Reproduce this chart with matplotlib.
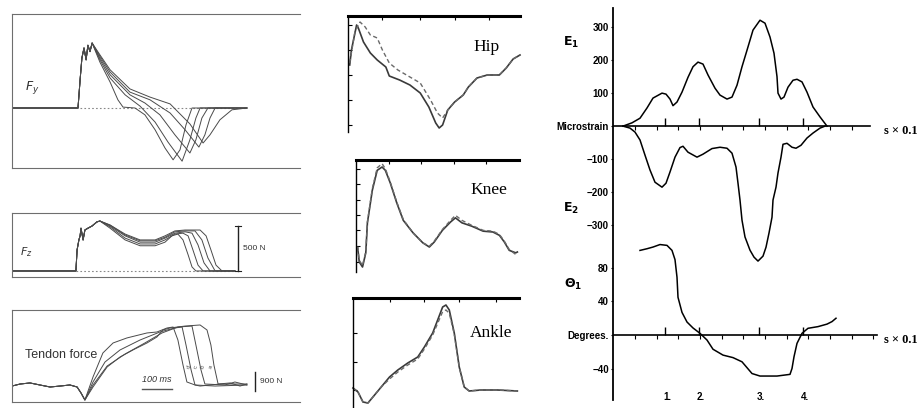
import numpy as np
import matplotlib
matplotlib.use('Agg')
import matplotlib.pyplot as plt

plt.rcParams['font.family'] = ['Liberation Sans', 'DejaVu Sans']
plt.rcParams['mathtext.fontset'] = 'dejavusans'

W, H = 922, 408

# ---------------- left column: forces (time in ms, force in N) ----------------
fy_t0 = [0, 220, 227, 233, 240, 247, 253, 260, 267]
fy_f0 = [0, 0, 310, 550, 660, 530, 690, 620, 715]
fy_t = [
    [293, 327, 353, 370, 410, 443, 477, 510, 537, 560, 580, 600, 783],
    [293, 327, 377, 427, 477, 520, 567, 593, 613, 627, 783],
    [293, 327, 393, 443, 493, 543, 593, 613, 633, 653, 783],
    [293, 327, 393, 460, 527, 577, 623, 643, 660, 677, 783],
    [293, 327, 393, 460, 527, 593, 637, 660, 693, 733, 783],
]
fy_f = [
    [505, 285, 90, 10, 0, -75, -240, -440, -570, -460, -185, 0, 0],
    [530, 330, 145, 20, -155, -375, -585, -350, -110, 0, 0],
    [550, 365, 145, 55, -75, -295, -495, -350, -110, 0, 0],
    [570, 395, 175, 90, -55, -240, -430, -295, -110, 0, 0],
    [585, 420, 210, 120, 45, -175, -385, -295, -130, -20, 0],
]

fz_t0 = [0, 213, 217, 223, 227, 230, 237, 243, 253, 267, 283, 293]
fz_f0 = [0, 0, 235, 345, 390, 475, 345, 455, 475, 500, 545, 555]
fz_t = [
    [327, 377, 427, 477, 510, 533, 553, 570, 587, 600, 613, 743],
    [327, 377, 427, 477, 510, 543, 570, 587, 603, 620, 637, 743],
    [327, 377, 427, 477, 510, 543, 577, 600, 620, 640, 660, 743],
    [327, 377, 427, 477, 510, 543, 577, 610, 633, 653, 677, 743],
    [327, 377, 427, 477, 510, 543, 577, 627, 647, 663, 680, 700, 743],
]
fz_f = [
    [475, 345, 280, 280, 320, 390, 410, 345, 180, 45, 0, 0],
    [490, 365, 300, 300, 345, 410, 420, 390, 235, 65, 0, 0],
    [500, 390, 320, 320, 365, 420, 435, 420, 290, 90, 0, 0],
    [510, 400, 335, 335, 375, 435, 445, 445, 345, 145, 0, 0],
    [510, 410, 345, 345, 390, 445, 455, 455, 390, 235, 65, 0, 0],
]

tf_t0 = [0, 27, 60, 93, 127, 160, 193, 217, 230, 243]
tf_f0 = [750, 845, 895, 800, 705, 750, 800, 705, 425, 95]
tf_t = [
    [270, 303, 337, 383, 450, 483, 517, 537, 553, 570, 583, 610, 627, 693, 783],
    [270, 310, 360, 427, 493, 543, 567, 580, 597, 610, 677, 783],
    [270, 317, 377, 443, 500, 553, 600, 613, 630, 643, 710, 743, 783],
    [270, 317, 360, 403, 450, 483, 503, 527, 577, 627, 650, 663, 673, 687, 727, 760, 783],
]
tf_f = [
    [1175, 2305, 2775, 3010, 3245, 3290, 3480, 3525, 2915, 1740, 940, 800, 750, 845, 845],
    [940, 1880, 2445, 2915, 3290, 3480, 3525, 2680, 1505, 800, 750, 800],
    [800, 1690, 2255, 2775, 3245, 3525, 3570, 2680, 1505, 845, 800, 940, 800],
    [705, 1645, 2115, 2445, 2775, 3055, 3385, 3480, 3570, 3620, 3385, 2680, 1740, 845, 895, 750, 845],
]
tf_names = ['d', 'c', 'b', 'a']

# ---------------- middle column: joint angles (% cycle, deg) ----------------
hip_pct = [1, 2, 5, 6, 9, 13, 17, 22, 24, 30, 36, 42, 47, 51, 53, 55, 58, 62, 67, 70, 75, 81, 88, 92, 96, 100]
hip_meas = [12.5, 20, 32.5, 31, 24, 18.5, 15, 11.5, 7, 5, 2.5, -1.5, -8.5, -16.5, -19, -17.5, -10, -6, -2.5,
            1.5, 6, 7.5, 7.5, 11, 15.5, 17.5]
hip_pct_d = [1, 4, 7, 10, 13, 17, 20, 24, 29, 36, 42, 48, 52, 55, 58, 62, 67, 70, 75, 81, 88, 92, 96, 100]
hip_sim = [13.5, 29, 34, 31.5, 27.5, 26, 20, 13.5, 10, 6.5, 3.5, -5, -11.5, -14, -10, -6, -2.5, 1.5, 6, 7.5,
           7.5, 11, 15.5, 17.5]

knee_pct = [1, 2, 4, 6, 7, 10, 13, 16, 18, 21, 25, 29, 35, 41, 45, 48, 53, 58, 61, 65, 71, 78, 84, 88, 91, 94, 98, 99]
knee_meas = [15, 6, 3, 11.5, 29.5, 49, 61, 63, 61, 53.5, 41.5, 31, 23.5, 17.5, 15, 18, 25, 30, 32.5, 29.5,
             27.5, 24.5, 24, 22, 18, 13, 11.5, 12]
knee_sim = [15, 7, 4, 12, 30, 50, 62.5, 65, 62, 54, 42, 31.5, 23.5, 17.5, 15.5, 18.5, 25.5, 31, 34, 31,
            28, 25, 24.5, 22.5, 18.5, 13.5, 10.5, 11]

ankle_pct = [0, 3, 6, 9, 12, 17, 22, 27, 33, 39, 43, 48, 51, 54, 56, 58, 61, 64, 67, 70, 77, 87, 99]
ankle_meas = [0.6, -0.6, -3.6, -3.9, -2.1, 0.9, 3.9, 6, 8.1, 9.9, 12.9, 17.1, 21, 24.9, 25.5, 24, 17.1, 6.9,
              0.9, -0.3, 0, 0, -0.3]
ankle_sim = [0.6, -0.6, -3.6, -3.9, -2.1, 0.9, 3.3, 5.4, 7.5, 9.3, 12.3, 16.5, 20, 23.5, 24, 23, 16.8, 6.9,
             0.9, -0.3, 0, 0, -0.3]

# ---------------- right column: strain and angle vs time ----------------
e1_t = [1.0, 1.9, 2.7, 3.4, 4.0, 4.9, 5.3, 5.7, 6.0, 6.4, 6.9, 7.5, 8.0, 8.5, 9.0, 9.5, 10.2, 10.7, 11.4,
        11.9, 12.4, 12.9, 13.4, 14.0, 14.7, 15.2, 15.7, 16.1, 16.4, 16.5, 16.8, 17.1, 17.5, 18.0, 18.4,
        18.9, 19.4, 20.0, 20.7, 21.4]
e1 = [0, 10, 24, 55, 85, 100, 97, 82, 62, 73, 103, 148, 180, 194, 188, 155, 115, 94, 82, 88, 124, 180,
      230, 291, 321, 312, 270, 221, 150, 100, 82, 88, 118, 139, 142, 134, 103, 58, 28, 0]
e2_t = [1.0, 1.7, 2.2, 2.7, 3.2, 3.7, 4.2, 4.9, 5.3, 5.7, 6.2, 6.7, 7.0, 7.5, 8.4, 9.0, 9.9, 10.7, 11.4,
        11.9, 12.3, 12.5, 12.7, 12.9, 13.2, 13.7, 14.1, 14.5, 15.0, 15.3, 15.6, 15.9, 16.0, 16.3, 16.5,
        16.8, 17.0, 17.4, 17.9, 18.3, 18.8, 19.4, 20.0, 20.7, 21.2]
e2 = [0, -6, -18, -42, -88, -133, -170, -185, -173, -139, -94, -65, -61, -79, -94, -85, -68, -64, -67,
      -82, -124, -173, -224, -285, -336, -376, -397, -409, -394, -367, -324, -276, -224, -185, -142,
      -94, -55, -52, -64, -67, -58, -36, -21, -6, 0]
th_t = [2.7, 3.4, 4.0, 4.7, 5.4, 5.9, 6.2, 6.4, 6.5, 6.9, 7.4, 8.0, 8.7, 9.4, 10.0, 11.0, 12.0, 12.9,
        13.4, 13.9, 14.7, 16.4, 17.7, 17.9, 18.1, 18.4, 18.9, 19.5, 20.5, 21.4, 21.9, 22.3]
th = [101, 103, 105, 108, 107, 101, 90, 69, 45, 27, 15.5, 8.4, 2, -6, -17, -24, -27, -32, -39, -46,
      -49, -49, -47, -40, -26, -10, 2, 8, 10, 13, 16, 20]

events = [5.2, 8.6, 14.6, 19.0]
event_labels = ['1.', '2.', '3.', '4.']
minor_t = [2.2, 4.4, 6.5, 8.7, 10.9, 13.0, 15.2, 17.4, 19.5, 21.7, 23.9, 26.0]
strain_ticks = [300, 200, 100, 0, -100, -200, -300]
strain_labels = ['300', '200', '100', 'Microstrain', '\u2212100', '\u2212200', '\u2212300']
deg_ticks = [80, 40, 0, -40]
deg_labels = ['80', '40', 'Degrees.', '\u221240']

fig = plt.figure(figsize=(W / 100, H / 100), dpi=100)


def panel(x0, y0, x1, y1, name):
    # axes placed by pixel box, origin top-left
    return fig.add_axes([x0 / W, 1 - y1 / H, (x1 - x0) / W, (y1 - y0) / H], label=name)


def ftext(x, y, s, **kw):
    fig.text(x / W, 1 - y / H, s, **kw)


def scan_box(ax):
    ax.set_facecolor('none')
    ax.spines['right'].set_visible(False)
    for side in ['left', 'top', 'bottom']:
        ax.spines[side].set_color('#6e6e6e')
        ax.spines[side].set_linewidth(0.8)
    ax.set_xticks([])
    ax.set_yticks([])


scan = '#4a4a4a'

# Fy
ax = panel(12, 14, 300, 168, 'fy')
scan_box(ax)
ax.set_xlim(0, 960)
ax.set_ylim(-660, 1034)
ax.plot([227, 783], [0, 0], ls=(0, (1.5, 2)), color='#888888', lw=0.8)
for t, f in zip(fy_t, fy_f):
    ax.plot(fy_t0 + t, fy_f0 + f, color=scan, lw=0.7)
ax.text(43, 220, '$F_y$', fontsize=9, color='#333333', va='center')

# Fz
ax = panel(12, 213, 300, 277, 'fz')
scan_box(ax)
ax.set_xlim(0, 960)
ax.set_ylim(-67, 644)
ax.plot([213, 743], [0, 0], ls=(0, (1.5, 2)), color='#888888', lw=0.8)
for t, f in zip(fz_t, fz_f):
    ax.plot(fz_t0 + t, fz_f0 + f, color=scan, lw=0.7)
ax.text(27, 211, '$F_z$', fontsize=8, color='#333333', va='center')
ax.plot([753, 753], [0, 500], color='#222222', lw=1.0)
ax.plot([743, 763], [0, 0], color='#222222', lw=0.8)
ax.plot([743, 763], [500, 500], color='#222222', lw=0.8)
ax.text(770, 250, '500 N', fontsize=6, color='#333333', va='center')

# Tendon force
ax = panel(12, 310, 300, 402, 'tendon')
scan_box(ax)
ax.set_xlim(0, 960)
ax.set_ylim(0, 4324)
for t, f in zip(tf_t, tf_f):
    ax.plot(tf_t0 + t, tf_f0 + f, color=scan, lw=0.7)
for t, name in zip([590, 613, 637, 663], tf_names):
    ax.text(t, 1650, name, fontsize=4.5, color='#555555', rotation=70, ha='center', va='center')
ax.text(43, 2210, 'Tendon force', fontsize=9, color='#333333', va='center')
ax.text(483, 1034, '100 ms', fontsize=6.5, color='#333333', ha='center', va='center', style='italic')
ax.plot([433, 533], [610, 610], color='#555555', lw=1.0)
ax.plot([810, 810], [517, 1417], color='#222222', lw=1.0)
ax.text(825, 967, '900 N', fontsize=6, color='#333333', va='center')


# joint angle panels
def joint_panel(box, name, pct, meas, pct_d, sim, ylim, yt, xt):
    ax = panel(*box, name)
    ax.set_facecolor('none')
    ax.set_xlim(0, 100)
    ax.set_ylim(*ylim)
    for side in ['right', 'bottom']:
        ax.spines[side].set_visible(False)
    ax.spines['top'].set_linewidth(2.2)
    ax.spines['left'].set_linewidth(1.0)
    ax.set_yticks(yt)
    ax.set_xticks(xt)
    ax.tick_params(direction='in', length=3, width=0.8, left=True, top=True, bottom=False,
                   labelleft=False, labelbottom=False)
    ax.plot(pct, meas, color='#3a3a3a', lw=1.2, clip_on=False)
    ax.plot(pct_d, sim, color='#6a6a6a', lw=1.0, ls=(0, (3, 2)), clip_on=False)
    return ax


joint_panel((348, 16, 520, 132), 'hip', hip_pct, hip_meas, hip_pct_d, hip_sim,
            (-21, 37), [-17.5, -5, 7.5, 20, 32.5], [20, 42, 62, 82])
joint_panel((356, 160, 519, 272), 'knee', knee_pct, knee_meas, knee_pct, knee_sim,
            (0, 67.2), [6, 15.5, 25, 34.5, 43.5, 53, 62], [20, 40, 60, 80])
joint_panel((353, 298, 519, 408), 'ankle', ankle_pct, ankle_meas, ankle_pct, ankle_sim,
            (-5.4, 27.6), [0, 8.5, 17], [22, 43, 64, 86])
ftext(473, 47, 'Hip', fontsize=12.5, family='Liberation Serif', va='center')
ftext(470, 190, 'Knee', fontsize=12.5, family='Liberation Serif', va='center')
ftext(470, 333, 'Ankle', fontsize=12.5, family='Liberation Serif', va='center')

# strain / angle panel
axE = panel(613, 8, 922, 400, 'strain')
axA = panel(613, 8, 922, 400, 'angle')
for a in (axE, axA):
    a.set_facecolor('none')
    a.set_xlim(0, 30.9)
    a.set_xticks([])
    for side in ['right', 'top', 'bottom', 'left']:
        a.spines[side].set_visible(False)
axE.spines['left'].set_visible(True)
axE.spines['left'].set_linewidth(1.3)
axE.set_ylim(-830, 358)
axA.set_ylim(-77.6, 390.4)
axE.set_yticks(strain_ticks, strain_labels)
axA.set_yticks(deg_ticks, deg_labels)
for a in (axE, axA):
    a.tick_params(axis='y', length=1.5, width=0.8, pad=1.5, labelsize=7)
    for lbl in a.get_yticklabels():
        lbl.set_fontweight('bold')

axE.plot([0, 25.7], [0, 0], color='black', lw=1.2)
axE.vlines(events, 0, 24, color='black', lw=1.0)
axE.vlines(minor_t[:-1], -12, 0, color='black', lw=0.8)
axE.plot(e1_t, e1, color='black', lw=1.1)
axE.plot(e2_t, e2, color='black', lw=1.1)

axA.plot([0, 26.4], [0, 0], color='black', lw=1.2)
axA.vlines(events, 0, 9.6, color='black', lw=1.0)
axA.vlines(minor_t, -4.8, 0, color='black', lw=0.8)
axA.plot(th_t, th, color='black', lw=1.1)
for t, s in zip(events, event_labels):
    axA.text(t + 0.2, -74, s, fontsize=7, fontweight='bold', ha='center', va='center')

ftext(563, 42, r'$\mathbf{E_1}$', fontsize=9, va='center')
ftext(563, 208, r'$\mathbf{E_2}$', fontsize=9, va='center')
ftext(564, 284, r'$\mathbf{\Theta_1}$', fontsize=9, va='center')
ftext(884, 131, 's \u00d7 0.1', fontsize=9, fontweight='bold', family='Liberation Serif', va='center')
ftext(884, 340, 's \u00d7 0.1', fontsize=9, fontweight='bold', family='Liberation Serif', va='center')

fig.savefig('out.png', dpi=100)
